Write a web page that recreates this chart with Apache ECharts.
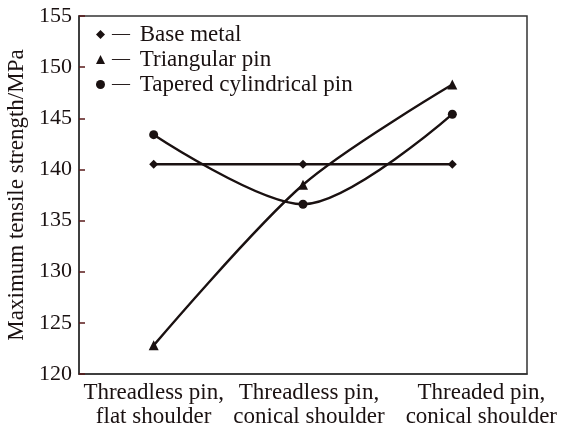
<!DOCTYPE html>
<html>
<head>
<meta charset="utf-8">
<script src="https://cdn.jsdelivr.net/npm/echarts@6/dist/echarts.min.js"></script>
<style>html,body{margin:0;padding:0;background:#fff;}#c{width:569px;height:434px;}</style>
</head>
<body>
<div id="c"></div>
<script>
const categories = ['Threadless pin,\nflat shoulder', 'Threadless pin,\nconical shoulder', 'Threaded pin,\nconical shoulder'];
const baseMetal = [140.5, 140.5, 140.5];
const triangularPin = [122.8, 138.5, 148.3];
const taperedPin = [143.4, 136.6, 145.4];
const yTicks = [120, 125, 130, 135, 140, 145, 150, 155];

const font = '"Liberation Serif", "DejaVu Serif", serif';
const ink = '#1a1111';
const chart = echarts.init(document.getElementById('c'));
function line(name, data, symbol, size, smooth) {
  return {
    name, type: 'line', data, symbol, symbolSize: size, smooth,
    lineStyle: { color: ink, width: 2.4 },
    itemStyle: { color: ink },
    z: 3
  };
}
const labelShift = [0, 12, 58];
chart.setOption({
  animation: false,
  backgroundColor: '#fff',
  grid: { left: 79, right: 42, top: 16, bottom: 60, containLabel: false, outerBoundsMode: 'none', show: true, borderColor: '#333', borderWidth: 1.5, backgroundColor: 'transparent' },
  legend: {
    left: 91, top: 18, orient: 'vertical', itemGap: 2, itemWidth: 9, itemHeight: 9,
    textStyle: {
      fontFamily: font, fontSize: 23, color: ink,
      rich: { d: { fontFamily: font, fontSize: 18, color: ink, padding: [0, 4, 0, 2] } }
    },
    formatter: n => '{d|\u2014} ' + n,
    data: [
      { name: 'Base metal', icon: 'diamond' },
      { name: 'Triangular pin', icon: 'triangle' },
      { name: 'Tapered cylindrical pin', icon: 'circle' }
    ]
  },
  xAxis: {
    type: 'category', data: categories, boundaryGap: true,
    axisLine: { lineStyle: { color: '#333', width: 1.5 } },
    axisTick: { inside: true, alignWithLabel: true, length: 6, lineStyle: { color: '#333', width: 1.5 } },
    axisLabel: {
      color: ink, fontFamily: font, fontSize: 23, lineHeight: 24, margin: 7, interval: 0,
      formatter: (v, i) => v.split('\n').map(s => '{s' + i + '|' + s + '}').join('\n'),
      rich: {
        s0: { fontFamily: font, fontSize: 23, lineHeight: 24, color: ink, padding: [0, 0, 0, labelShift[0]] },
        s1: { fontFamily: font, fontSize: 23, lineHeight: 24, color: ink, padding: [0, 0, 0, labelShift[1]] },
        s2: { fontFamily: font, fontSize: 23, lineHeight: 24, color: ink, padding: [0, 0, 0, labelShift[2]] }
      }
    }
  },
  yAxis: {
    type: 'value', min: yTicks[0], max: yTicks[yTicks.length - 1], interval: 5,
    name: 'Maximum tensile strength/MPa', nameLocation: 'middle', nameGap: 42,
    nameTextStyle: { color: ink, fontFamily: font, fontSize: 23 },
    axisLine: { show: true, lineStyle: { color: '#333', width: 1.5 } },
    axisTick: { show: true, inside: true, length: 6, lineStyle: { color: '#5a1a1a', width: 1.5 } },
    axisLabel: { color: ink, fontFamily: font, fontSize: 22, margin: 7 },
    splitLine: { show: false }
  },
  series: [
    line('Base metal', baseMetal, 'diamond', 9, false),
    line('Triangular pin', triangularPin, 'triangle', 10, 0.3),
    line('Tapered cylindrical pin', taperedPin, 'circle', 9, 0.3)
  ]
});
</script>
</body>
</html>
